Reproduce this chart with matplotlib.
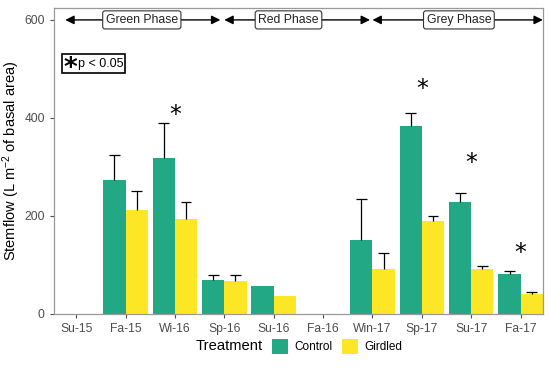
import numpy as np
import matplotlib.pyplot as plt
from matplotlib.patches import Rectangle

plt.rcParams["font.family"] = ["Liberation Sans", "DejaVu Sans"]
plt.rcParams["mathtext.fontset"] = "custom"
plt.rcParams["mathtext.rm"] = "Liberation Sans"
plt.rcParams["mathtext.it"] = "Liberation Sans:italic"

seasons = ["Su-15", "Fa-15", "Wi-16", "Sp-16", "Su-16", "Fa-16", "Win-17", "Sp-17", "Su-17", "Fa-17"]
control = [np.nan, 273, 318, 69, 57, np.nan, 150, 384, 229, 82]
control_err = [np.nan, 51, 71, 11, np.nan, np.nan, 84, 25, 17, 6]
girdled = [np.nan, 213, 194, 68, 37, np.nan, 92, 190, 92, 41]
girdled_err = [np.nan, 37, 35, 12, np.nan, np.nan, 32, 10, 6, 3]

sig_x = [2, 7, 8, 9]
sig_y = [405, 458, 308, 125]

phases = ["Green Phase", "Red Phase", "Grey Phase"]
phase_start = [-0.22, 3.0, 6.0]
phase_end = [2.92, 5.95, 9.45]
phase_label_x = [1.33, 4.3, 7.75]

green = "#22A884"
yellow = "#FDE725"

fig = plt.figure(figsize=(5.5, 3.88), dpi=100)
ax = fig.add_axes([0.098, 0.191, 0.889, 0.788])

x = np.arange(len(seasons))
w = 0.45
ax.bar(x - w / 2, control, width=w, color=green, label="Control")
ax.bar(x + w / 2, girdled, width=w, color=yellow, label="Girdled")

# upper error bars only
cap = 0.11
for pos, val, err in [(x - w / 2, control, control_err), (x + w / 2, girdled, girdled_err)]:
    val = np.array(val, dtype=float)
    top = val + np.array(err, dtype=float)
    ax.vlines(pos, val, top, color="black", lw=0.9)
    ax.hlines(top, pos - cap, pos + cap, color="black", lw=0.9)

for sx, sy in zip(sig_x, sig_y):
    ax.text(sx, sy, "*", fontsize=17, ha="center", va="center", color="black",
            family="DejaVu Sans")

# phase arrows
for name, s, e, lx in zip(phases, phase_start, phase_end, phase_label_x):
    ax.annotate("", xy=(s, 600), xytext=(e, 600),
                arrowprops=dict(arrowstyle="<|-|>", color="black", lw=1.0,
                                mutation_scale=13, shrinkA=0, shrinkB=0))
    ax.text(lx, 600, name, ha="center", va="center", fontsize=8.8, color="#222222",
            bbox=dict(boxstyle="round,pad=0.25,rounding_size=0.2", fc="white", ec="#333333", lw=0.8))

# significance key
ax.add_patch(Rectangle((-0.283, 492), 1.275, 39, fc="white", ec="black", lw=1.2, zorder=3))
ax.text(0.04, 510, "p < 0.05", ha="left", va="center", fontsize=9, zorder=4)
ax.text(-0.125, 499, "*", ha="center", va="center", fontsize=19, fontweight="bold",
        family="DejaVu Sans", zorder=4)

ax.set_xlim(-0.45, 9.45)
ax.set_ylim(0, 624)
ax.set_xticks(x)
ax.set_xticklabels(seasons)
ax.set_yticks([0, 200, 400, 600])
ax.tick_params(colors="#4d4d4d", labelsize=8.7, length=3, width=0.8, labelcolor="#4d4d4d")
for sp in ax.spines.values():
    sp.set_color("#999999")
    sp.set_linewidth(0.9)
ax.set_ylabel(r"Stemflow (L m$^{-2}$ of basal area)", fontsize=10.5)
ax.yaxis.set_label_coords(-0.065, 0.5)

handles, labels = ax.get_legend_handles_labels()
leg = fig.legend(handles, labels, loc="center left", bbox_to_anchor=(0.495, 0.107), ncol=2,
                 frameon=False, fontsize=8.5, handlelength=1.3, handleheight=1.6,
                 columnspacing=0.8, handletextpad=0.6, borderpad=0, borderaxespad=0)
fig.text(0.477, 0.107, "Treatment", ha="right", va="center", fontsize=10.6)

fig.savefig("out.png", dpi=100)
